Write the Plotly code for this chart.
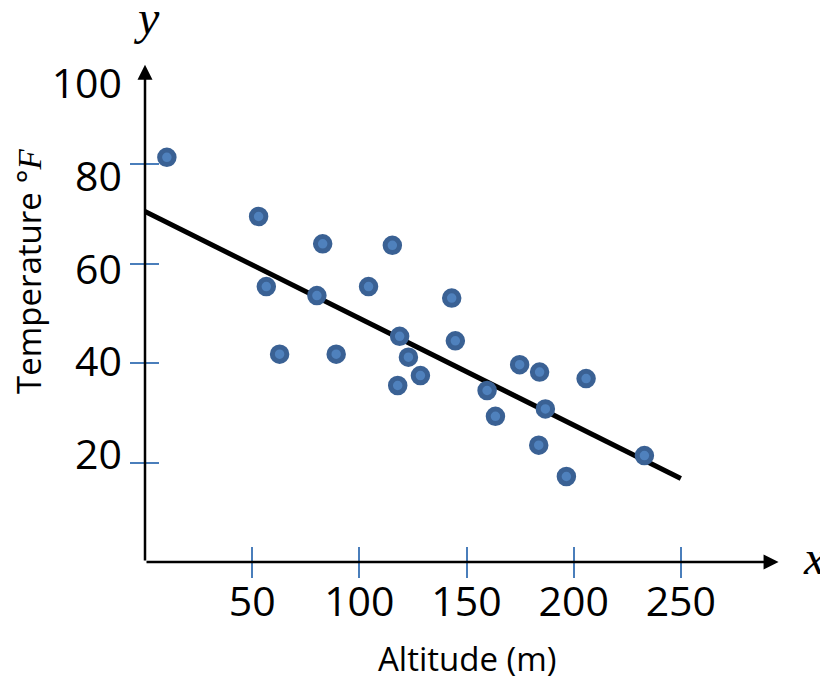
import plotly.graph_objects as go

# ---- data ----
altitude = [10.2, 53.0, 56.6, 62.8, 80.2, 82.9, 89.2, 104.3, 115.4, 118.8, 117.9, 122.9,
            128.5, 143.1, 144.8, 159.6, 163.5, 174.8, 184.1, 186.8, 183.7, 196.6, 205.8, 233.0]
temperature = [81.4, 69.5, 55.4, 41.8, 53.6, 64.0, 41.8, 55.4, 63.7, 45.4, 35.5, 41.2,
               37.5, 53.1, 44.5, 34.5, 29.3, 39.7, 38.2, 30.8, 23.5, 17.2, 36.9, 21.4]
trend_x = [0, 250]
trend_y = [70.5, 16.8]

x_tickvals = [50, 100, 150, 200, 250]
x_ticktext = ["50", "100", "150", "200", "250"]
y_tickvals = [20, 40, 60, 80]
y_labelvals = [20, 40, 60, 80, 100]
y_labeltext = ["20", "40", "60", "80", "100"]

x_axis_end = 295.6
y_axis_end = 100

TICK_BLUE = "#4a7ebb"
LABEL_FONT = dict(family="Open Sans", size=41, color="black")
XRANGE = [0, 300]
YRANGE = [0, 105]

fig = go.Figure()

fig.add_trace(go.Scatter(
    x=trend_x, y=trend_y, mode="lines",
    line=dict(color="black", width=5),
    showlegend=False, hoverinfo="skip"))

fig.add_trace(go.Scatter(
    x=altitude, y=temperature, mode="markers",
    marker=dict(size=14.5, color="#4f81bd", line=dict(color="#3a6194", width=5)),
    showlegend=False))

# helper traces for overlay axes (crossing ticks and label axes)
fig.add_trace(go.Scatter(x=[], y=[], xaxis="x2", yaxis="y2", showlegend=False, hoverinfo="skip"))
fig.add_trace(go.Scatter(x=[], y=[], xaxis="x", yaxis="y3", showlegend=False, hoverinfo="skip"))
fig.add_trace(go.Scatter(x=[], y=[], xaxis="x3", yaxis="y", showlegend=False, hoverinfo="skip"))

common = dict(showgrid=False, zeroline=False, showline=False)

# the page body has an 8px default margin, so the figure is 8px smaller
fig.update_layout(
    width=820, height=669,
    margin=dict(l=137, r=40, t=32, b=115),
    paper_bgcolor="white", plot_bgcolor="white",
    xaxis=dict(range=XRANGE, tickvals=x_tickvals,
               ticks="outside", ticklen=15, tickwidth=2, tickcolor=TICK_BLUE,
               showticklabels=False, **common),
    xaxis2=dict(range=XRANGE, overlaying="x", anchor="y2", tickvals=x_tickvals,
                ticks="inside", ticklen=15, tickwidth=2, tickcolor=TICK_BLUE,
                showticklabels=False, **common),
    xaxis3=dict(range=XRANGE, overlaying="x", anchor="y", side="bottom",
                tickvals=x_tickvals, ticktext=x_ticktext, ticks="", ticklen=0,
                tickfont=LABEL_FONT, ticklabelstandoff=12, **common),
    yaxis=dict(range=YRANGE, tickvals=y_tickvals, ticks="outside", ticklen=14,
               tickwidth=2, tickcolor=TICK_BLUE, showticklabels=False, **common),
    yaxis2=dict(range=YRANGE, overlaying="y", anchor="x2", tickvals=y_tickvals,
                ticks="inside", ticklen=14, tickwidth=2, tickcolor=TICK_BLUE,
                showticklabels=False, **common),
    yaxis3=dict(range=[-3.03, 109.32], overlaying="y", anchor="x", side="left",
                tickvals=y_labelvals, ticktext=y_labeltext, ticks="", ticklen=0,
                tickfont=LABEL_FONT, ticklabelstandoff=22, **common),
)

arrow = dict(xref="x", yref="y", axref="x", ayref="y", text="", showarrow=True,
             arrowhead=2, arrowsize=1.2, arrowwidth=2.5, arrowcolor="black")
fig.add_annotation(x=x_axis_end, y=0, ax=0, ay=0, **arrow)
fig.add_annotation(x=0, y=y_axis_end, ax=0, ay=0, **arrow)

fig.add_annotation(x=0.5008, y=-0.184, xref="paper", yref="paper", showarrow=False,
                   text="Altitude (m)", font=dict(family="Open Sans", size=33, color="black"),
                   xanchor="center", yanchor="middle")
fig.add_annotation(x=-0.1804, y=0.5575, xref="paper", yref="paper", showarrow=False,
                   textangle=-90,
                   text="Temperature °<span style='font-family:Liberation Serif'><i>F</i></span>",
                   font=dict(family="Open Sans", size=33, color="black"),
                   xanchor="center", yanchor="middle")
fig.add_annotation(x=1.0404, y=0.0077, xref="paper", yref="paper", showarrow=False,
                   text="<i>x</i>", font=dict(family="Liberation Serif", size=48, color="black"),
                   xanchor="center", yanchor="middle")
fig.add_annotation(x=0.0016, y=1.043, xref="paper", yref="paper", showarrow=False,
                   text="<i>y</i>", font=dict(family="Liberation Serif", size=48, color="black"),
                   xanchor="center", yanchor="middle")

fig.write_html("out.html")
